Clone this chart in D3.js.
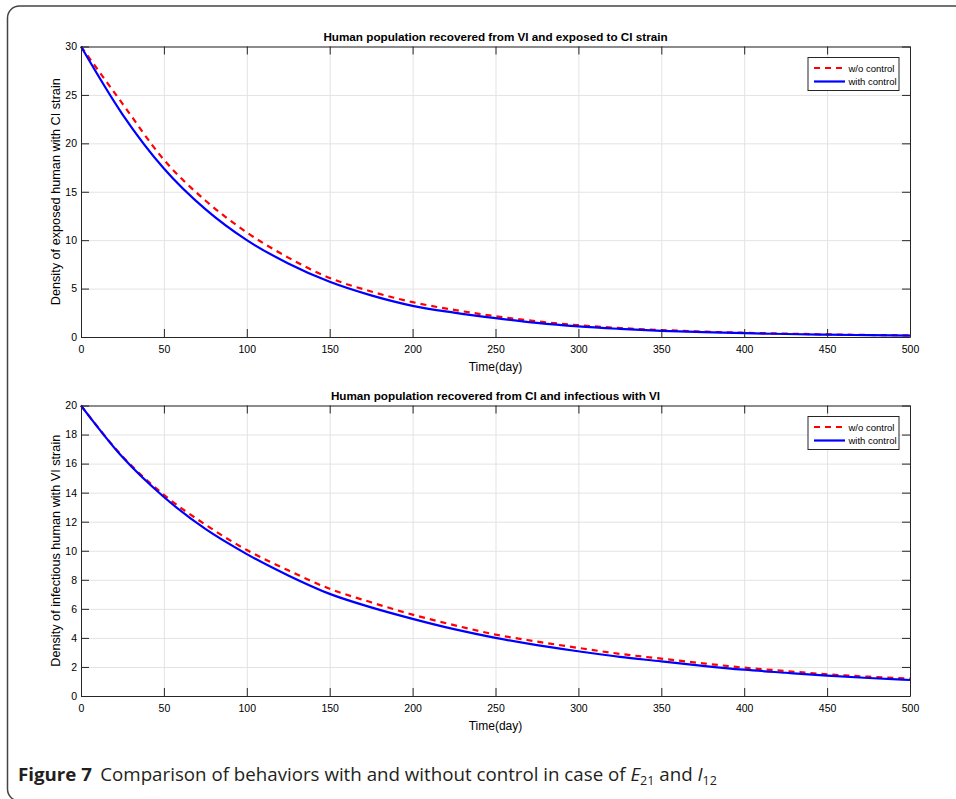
<!DOCTYPE html>
<html><head><meta charset="utf-8">
<script src="https://cdn.jsdelivr.net/npm/d3@7"></script>
<style>html,body{margin:0;padding:0;background:#fff;}svg{display:block;}</style>
</head><body>
<svg id="c" width="956" height="799"></svg>
<script>
const days = [0,25,50,75,100,125,150,175,200,225,250,275,300,325,350,375,400,425,450,475,500];
// Panel 1: E21
const e21NoControl = [30,24.1,18.3,14.1,10.8,8.2,6.1,4.7,3.6,2.8,2.15,1.62,1.22,0.93,0.72,0.56,0.44,0.35,0.27,0.21,0.17];
const e21Control   = [30,23.0,17.4,13.2,10.0,7.6,5.7,4.3,3.22,2.52,1.95,1.45,1.09,0.84,0.64,0.5,0.39,0.31,0.24,0.19,0.15];
// Panel 2: I12
const i12NoControl = [20,16.5,13.85,11.8,10.05,8.65,7.38,6.45,5.6,4.88,4.23,3.75,3.31,2.9,2.57,2.25,1.95,1.72,1.49,1.33,1.19];
const i12Control   = [20,16.45,13.7,11.5,9.77,8.3,7.03,6.1,5.31,4.6,4.0,3.5,3.08,2.69,2.39,2.08,1.81,1.6,1.4,1.24,1.1];
const xTicks = [0,50,100,150,200,250,300,350,400,450,500];
const yTicks1 = [0,5,10,15,20,25,30];
const yTicks2 = [0,2,4,6,8,10,12,14,16,18,20];
const seriesNames = ["w/o control","with control"];
const seriesColors = ["#ff0000","#0000ff"];
const titles = ["Human population recovered from VI and exposed to CI strain","Human population recovered from CI and infectious with VI"];
const yLabels = ["Density of exposed human with CI strain","Density of infectious human with VI strain"];
const xLabel = "Time(day)";

const svg = d3.select("#c");
// outer frame
svg.append("rect").attr("x",7.5).attr("y",6).attr("width",1000).attr("height",795)
  .attr("rx",12).attr("fill","none").attr("stroke","#444").attr("stroke-width",1.5);

const AX = "#262626";
const FONT = "'Liberation Sans', Arial, sans-serif";

function panel(cfg){
  const x = d3.scaleLinear().domain([0,500]).range([81,910]);
  const y = d3.scaleLinear().domain(cfg.ydom).range([cfg.bottom,cfg.top]);
  const g = svg.append("g");
  const W = 910-81, H = cfg.bottom-cfg.top;
  // grid
  g.append("g").attr("transform",`translate(0,${cfg.bottom})`)
    .call(d3.axisBottom(x).tickValues(xTicks).tickSize(-H).tickFormat(""))
    .call(s=>{s.select(".domain").remove();s.selectAll("line").attr("stroke","#e3e3e3");});
  g.append("g").attr("transform",`translate(81,0)`)
    .call(d3.axisLeft(y).tickValues(cfg.yticks).tickSize(-W).tickFormat(""))
    .call(s=>{s.select(".domain").remove();s.selectAll("line").attr("stroke","#e3e3e3");});
  // lines
  const line = d3.line().x((d,i)=>x(days[i])).y(d=>y(d)).curve(d3.curveMonotoneX);
  g.append("path").datum(cfg.s1).attr("d",line).attr("fill","none")
    .attr("stroke",seriesColors[0]).attr("stroke-width",2.2).attr("stroke-dasharray","6,5");
  g.append("path").datum(cfg.s2).attr("d",line).attr("fill","none")
    .attr("stroke",seriesColors[1]).attr("stroke-width",2.2);
  // axes
  const styleAx = s=>{s.selectAll("path,line").attr("stroke",AX);s.selectAll("text").attr("fill","#000")
      .style("font-family",FONT).style("font-size","10.5px");};
  g.append("g").attr("transform",`translate(0,${cfg.bottom})`)
    .call(d3.axisBottom(x).tickValues(xTicks).tickSizeInner(-8).tickSizeOuter(0).tickPadding(9))
    .call(styleAx);
  g.append("g").attr("transform",`translate(0,${cfg.top})`)
    .call(d3.axisTop(x).tickValues(xTicks).tickSizeInner(-8).tickSizeOuter(0).tickFormat(""))
    .call(styleAx);
  g.append("g").attr("transform",`translate(81,0)`)
    .call(d3.axisLeft(y).tickValues(cfg.yticks).tickSizeInner(-8).tickSizeOuter(0).tickPadding(4))
    .call(styleAx);
  g.append("g").attr("transform",`translate(910,0)`)
    .call(d3.axisRight(y).tickValues(cfg.yticks).tickSizeInner(-8).tickSizeOuter(0).tickFormat(""))
    .call(styleAx);
  // title
  g.append("text").attr("x",495.5).attr("y",cfg.top-6).attr("text-anchor","middle")
    .style("font-family",FONT).style("font-size","11.7px").style("font-weight","bold").text(cfg.title);
  // x label
  g.append("text").attr("x",495.5).attr("y",cfg.bottom+34).attr("text-anchor","middle")
    .style("font-family",FONT).style("font-size","12px").text(xLabel);
  // y label
  g.append("text").attr("transform",`translate(60,${(cfg.top+cfg.bottom)/2}) rotate(-90)`)
    .attr("text-anchor","middle").style("font-family",FONT).style("font-size","12.7px").text(cfg.ylabel);
  // legend
  const lx = 808, ly = cfg.top+11;
  const lg = g.append("g");
  lg.append("rect").attr("x",lx).attr("y",ly).attr("width",91).attr("height",33)
    .attr("fill","#fff").attr("stroke",AX).attr("stroke-width",1);
  seriesNames.forEach((n,i)=>{
    const yy = ly+10.5+i*13.5;
    lg.append("line").attr("x1",lx+6).attr("x2",lx+37).attr("y1",yy).attr("y2",yy)
      .attr("stroke",seriesColors[i]).attr("stroke-width",2.2)
      .attr("stroke-dasharray",i===0?"6,5":null);
    lg.append("text").attr("x",lx+40.5).attr("y",yy+3.5).style("font-family",FONT)
      .style("font-size","9.5px").text(n);
  });
}

panel({ydom:[0,30],top:46.5,bottom:337,yticks:yTicks1,s1:e21NoControl,s2:e21Control,title:titles[0],ylabel:yLabels[0]});
panel({ydom:[0,20],top:405.5,bottom:696,yticks:yTicks2,s1:i12NoControl,s2:i12Control,title:titles[1],ylabel:yLabels[1]});

// caption
const cap = svg.append("text").attr("x",18).attr("y",781)
  .style("font-family","'Open Sans','Noto Sans',sans-serif").style("font-size","18px").attr("fill","#231f20");
cap.append("tspan").style("font-weight","bold").text("Figure 7");
cap.append("tspan").attr("dx",8).text("Comparison of behaviors with and without control in case of ");
cap.append("tspan").style("font-style","italic").text("E");
cap.append("tspan").attr("dy",4).style("font-size","12px").text("21");
cap.append("tspan").attr("dy",-4).text(" and ");
cap.append("tspan").style("font-style","italic").text("I");
cap.append("tspan").attr("dy",4).style("font-size","12px").text("12");
const w = cap.node().getBBox().width;
const sx = (717-18)/w;
cap.attr("transform",`translate(18,0) scale(${sx},1) translate(-18,0)`);
</script>
</body></html>
